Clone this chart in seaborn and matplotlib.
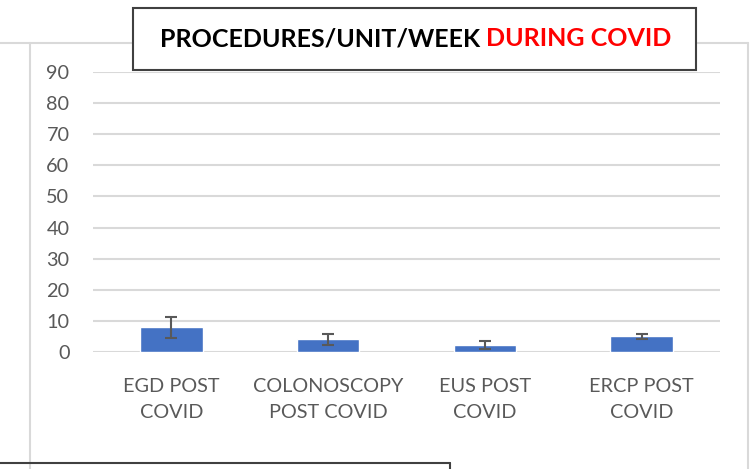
import matplotlib
matplotlib.use("Agg")
import matplotlib.pyplot as plt
import seaborn as sns
import pandas as pd
from matplotlib.patches import Rectangle
from matplotlib.lines import Line2D

# data
categories = ["EGD POST\nCOVID", "COLONOSCOPY\nPOST COVID", "EUS POST\nCOVID", "ERCP POST\nCOVID"]
means = [8.0, 4.1, 2.3, 5.0]
errs = [3.4, 1.8, 1.35, 0.9]
yticks = [0, 10, 20, 30, 40, 50, 60, 70, 80, 90]
title_black = "PROCEDURES/UNIT/WEEK "
title_red = "DURING COVID"

sns.set_style("white")
plt.rcParams['font.family'] = ['Lato', 'DejaVu Sans']

df = pd.DataFrame({"cat": categories, "val": means})

fig = plt.figure(figsize=(7.52, 4.69), dpi=100)
W, H = 752, 469

def px(x0, y0, x1, y1):
    """pixel box (top-left origin) -> figure fraction rect"""
    return [x0 / W, 1 - y1 / H, (x1 - x0) / W, (y1 - y0) / H]

# chart frame lines
grey = "#d9d9d9"
fig.add_artist(Line2D([30 / W, 30 / W], [0, 1 - 43 / H], color=grey, lw=1.5))
fig.add_artist(Line2D([0, 748 / W], [1 - 43 / H, 1 - 43 / H], color=grey, lw=1.5))
fig.add_artist(Line2D([748 / W, 748 / W], [0, 1 - 43 / H], color=grey, lw=1.5))

ax = fig.add_axes(px(93, 72, 720, 352))
sns.barplot(data=df, x="cat", y="val", color="#4472c4", width=0.4,
            saturation=1, errorbar=None, ax=ax, zorder=3)
ax.errorbar(range(len(means)), means, yerr=errs, fmt="none",
            ecolor="#595959", elinewidth=1.5, capsize=4, capthick=1.5, zorder=4)

ax.set_ylim(0, 90)
ax.set_yticks(yticks)
ax.yaxis.grid(True, color=grey, lw=1.5, zorder=0)
ax.set_axisbelow(True)
for s in ax.spines.values():
    s.set_visible(False)
ax.set_xlabel("")
ax.set_ylabel("")
ax.tick_params(axis="both", length=0, labelsize=14.3, colors="#595959")
ax.tick_params(axis="x", pad=19)
ax.tick_params(axis="y", pad=17)
for t in ax.get_xticklabels():
    t.set_linespacing(1.6)
ax.set_xlim(-0.5, 3.5)

# title box
fig.add_artist(Rectangle((133 / W, 1 - 70 / H), (696 - 133) / W, 62 / H,
                         transform=fig.transFigure, facecolor="white",
                         edgecolor="#404040", lw=1.5, zorder=5))
t1 = fig.text(160 / W, 1 - 39 / H, title_black, fontsize=18, fontweight="bold",
              color="black", va="center", ha="left", zorder=6)
fig.canvas.draw()
bb = t1.get_window_extent()
fig.text(bb.x1 / W, 1 - 39 / H, title_red, fontsize=18, fontweight="bold",
         color="red", va="center", ha="left", zorder=6)

# bottom box peeking in
fig.add_artist(Line2D([0, 450 / W], [1 - 463 / H, 1 - 463 / H], color="#404040", lw=1.5))
fig.add_artist(Line2D([450 / W, 450 / W], [0, 1 - 463 / H], color="#404040", lw=1.5))

fig.savefig("out.png", dpi=100)
